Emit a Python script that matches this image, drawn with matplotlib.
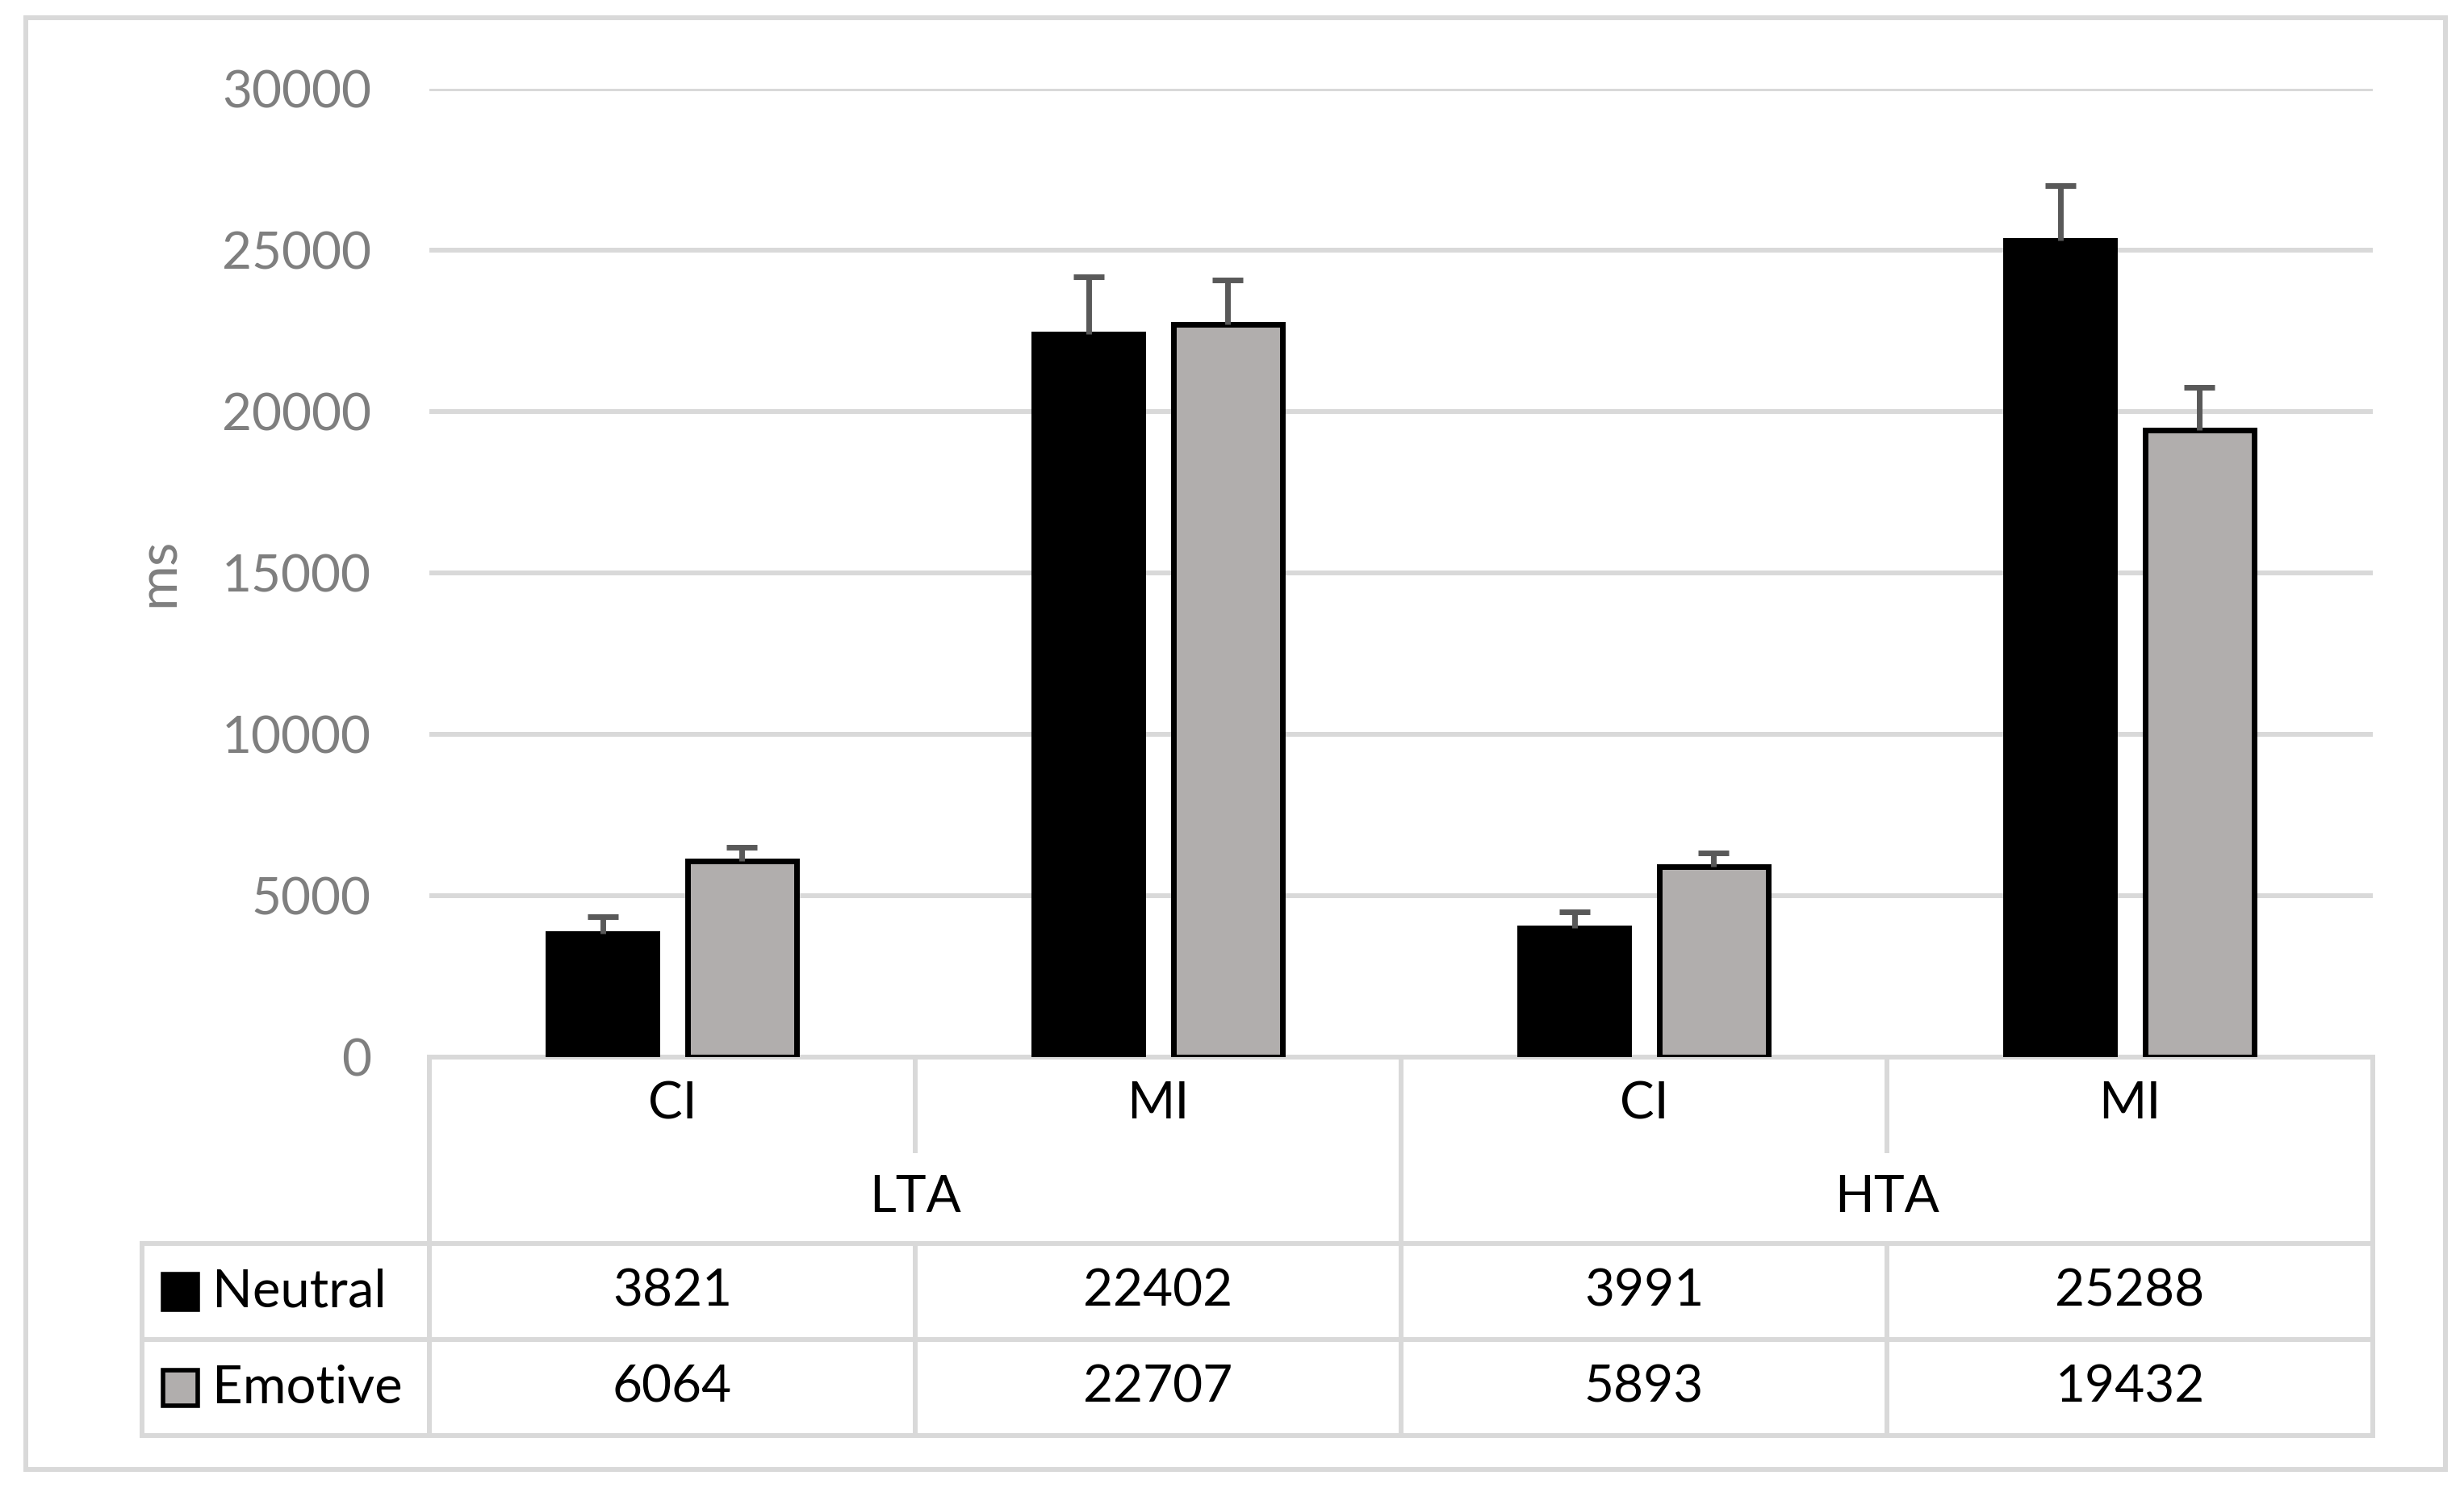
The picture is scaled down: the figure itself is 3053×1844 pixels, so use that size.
import matplotlib
matplotlib.use("Agg")
import matplotlib.pyplot as plt
import matplotlib.transforms as mtransforms
import numpy as np

plt.rcParams['font.family'] = ['Lato', 'DejaVu Sans']

# ---- data ----
conditions = ["CI", "MI", "CI", "MI"]
groups = ["LTA", "HTA"]
series_names = ["Neutral", "Emotive"]
neutral = [3821, 22402, 3991, 25288]
emotive = [6064, 22707, 5893, 19432]
neutral_err = [530, 1770, 510, 1720]
emotive_err = [440, 1380, 430, 1330]
yticks = [0, 5000, 10000, 15000, 20000, 25000, 30000]

# ---- style ----
W, H = 3053, 1844
DPI = 100
GRID = '#D9D9D9'
TICKC = '#7F7F7F'
ERRC = '#595959'
GRAY = '#B1AEAD'
FS = 46
LW_GRID = 4.3

fig = plt.figure(figsize=(W / DPI, H / DPI), dpi=DPI)

# overlay in pixel coordinates for table and border
ov = fig.add_axes([0, 0, 1, 1], zorder=0)
ov.set_xlim(0, W)
ov.set_ylim(H, 0)
ov.axis('off')

ax_l, ax_r, ax_top, ax_bot = 532, 2940, 110, 1310
ax = fig.add_axes([ax_l / W, (H - ax_bot) / H, (ax_r - ax_l) / W, (ax_bot - ax_top) / H], zorder=2)
ax.patch.set_alpha(0)

x = np.arange(len(conditions))
bw = 0.224
off = 0.143
ax.bar(x - off, neutral, bw, color='black', edgecolor='black', linewidth=5, zorder=3)
ax.bar(x + off, emotive, bw, color=GRAY, edgecolor='black', linewidth=5, zorder=3)

for xs, vals, errs in [(x - off, neutral, neutral_err), (x + off, emotive, emotive_err)]:
    vals = np.array(vals)
    errs = np.array(errs)
    ax.errorbar(xs, vals, yerr=[np.zeros_like(errs), errs], fmt='none',
                ecolor=ERRC, elinewidth=5, capsize=0, zorder=4)
    ax.plot(xs, vals + errs, ls='none', marker='_', markersize=27,
            markeredgewidth=5, color=ERRC, zorder=4)

ax.set_xlim(-0.5, len(conditions) - 0.5)
ax.set_ylim(0, 30000)
ax.set_yticks(yticks)
ax.set_yticklabels([str(t) for t in yticks])
ax.tick_params(axis='y', length=0, pad=52, labelsize=FS, labelcolor=TICKC)
ax.tick_params(axis='x', length=0, labelbottom=False)
ax.yaxis.grid(True, color=GRID, linewidth=LW_GRID, zorder=0)
ax.set_axisbelow(True)
for s in ax.spines.values():
    s.set_visible(False)

fig.text(197 / W, 1 - 709 / H, "ms", rotation=90, ha='center', va='center',
         fontsize=49, color=TICKC)

# ---- data table under the plot ----
tr = mtransforms.blended_transform_factory(ax.transData, ov.transData)
row_y = [1310, 1426, 1541, 1660, 1779]
lkw = dict(color=GRID, linewidth=LW_GRID, solid_capstyle='projecting', zorder=1)
left_b = -0.5
right_b = len(conditions) - 0.5
x_left_px = 176
xr_px = ax.transData.transform((right_b, 0))[0]

# horizontal lines
ov.plot([left_b, right_b], [row_y[0]] * 2, transform=tr, **lkw)
for yy in row_y[2:]:
    ov.plot([x_left_px, xr_px], [yy, yy], **lkw)
ov.plot([x_left_px, x_left_px], [row_y[2], row_y[4]], **lkw)

# vertical lines
for b in [left_b, 1.5, right_b]:
    ov.plot([b, b], [row_y[0], row_y[4]], transform=tr, **lkw)
for b in [0.5, 2.5]:
    ov.plot([b, b], [row_y[0], row_y[1]], transform=tr, **lkw)
    ov.plot([b, b], [row_y[2], row_y[4]], transform=tr, **lkw)

# category and group labels
for i, c in enumerate(conditions):
    ov.text(i, 1368, c, transform=tr, ha='center', va='center', fontsize=FS, color='black')
for gi, g in enumerate(groups):
    ov.text(gi * 2 + 0.5, 1484, g, transform=tr, ha='center', va='center', fontsize=FS, color='black')

# data rows with legend keys
data_rows = [neutral, emotive]
fills = ['black', GRAY]
for ri, (name, vals, fc) in enumerate(zip(series_names, data_rows, fills)):
    yc = (row_y[2 + ri] + row_y[3 + ri]) / 2
    for i, v in enumerate(vals):
        ov.text(i, yc, str(v), transform=tr, ha='center', va='center', fontsize=FS, color='black')
    ov.add_patch(plt.Rectangle((202, yc - 22), 43, 44, facecolor=fc, edgecolor='black',
                               linewidth=4, zorder=3))
    ov.text(263, yc, name, ha='left', va='center', fontsize=47, color='black')

# outer border
ov.add_patch(plt.Rectangle((32, 22), 3030 - 32, 1821 - 22, facecolor='none',
                           edgecolor=GRID, linewidth=LW_GRID, zorder=1))

fig.savefig("out.png", dpi=DPI, facecolor='white')
